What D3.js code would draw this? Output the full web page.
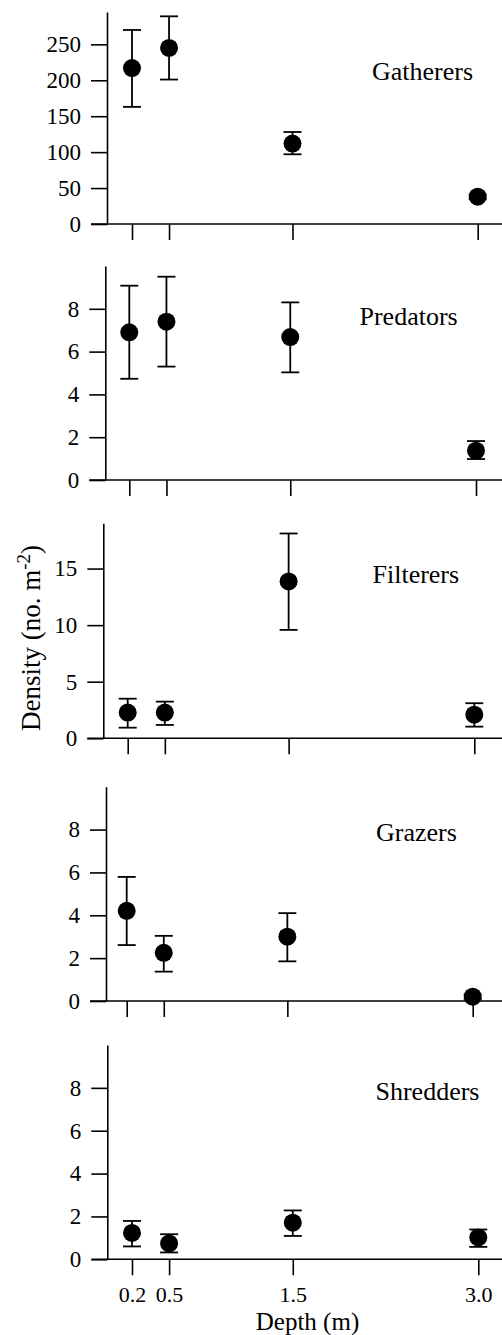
<!DOCTYPE html>
<html>
<head>
<meta charset="utf-8">
<script src="https://cdn.jsdelivr.net/npm/d3@7"></script>
<style>
  html, body { margin: 0; padding: 0; background: #fff; }
  svg { display: block; font-family: "Liberation Serif", "Times New Roman", serif; }
</style>
</head>
<body>
<svg id="chart" width="502" height="1335"></svg>
<script>
// Sampling depths (m)
const depths = [0.2, 0.5, 1.5, 3.0];
const depthLabels = ["0.2", "0.5", "1.5", "3.0"];

// Functional feeding groups
const groups = ["Gatherers", "Predators", "Filterers", "Grazers", "Shredders"];

// Mean density (no. m^-2) at each depth, with the upper and lower error limits
const gatherersMean  = [217, 245, 112, 38];
const gatherersHigh  = [270, 289, 128, 41];
const gatherersLow   = [163, 201, 97, 35];

const predatorsMean  = [6.9, 7.4, 6.68, 1.37];
const predatorsHigh  = [9.08, 9.5, 8.3, 1.82];
const predatorsLow   = [4.73, 5.3, 5.03, 0.98];

const filterersMean  = [2.27, 2.27, 13.86, 2.09];
const filterersHigh  = [3.5, 3.24, 18.1, 3.1];
const filterersLow   = [0.94, 1.18, 9.58, 1.03];

const grazersMean    = [4.21, 2.25, 3.0, 0.2];
const grazersHigh    = [5.79, 3.04, 4.1, 0.3];
const grazersLow     = [2.61, 1.37, 1.85, 0.1];

const shreddersMean  = [1.23, 0.74, 1.71, 1.02];
const shreddersHigh  = [1.79, 1.17, 2.28, 1.39];
const shreddersLow   = [0.6, 0.32, 1.09, 0.58];

// y-axis extents and tick values for each panel
const yMax   = [295, 10, 19, 10, 10];
const yTicks = [[0, 50, 100, 150, 200, 250], [0, 2, 4, 6, 8], [0, 5, 10, 15], [0, 2, 4, 6, 8], [0, 2, 4, 6, 8]];

const means = [gatherersMean, predatorsMean, filterersMean, grazersMean, shreddersMean];
const highs = [gatherersHigh, predatorsHigh, filterersHigh, grazersHigh, shreddersHigh];
const lows  = [gatherersLow, predatorsLow, filterersLow, grazersLow, shreddersLow];

// Panel layout (pixels)
const panels = [
  { axisX: 107,   top: 12,    bottom: 224,    x0: 132,   x1: 477.7, label: [372, 80] },
  { axisX: 105.3, top: 266,   bottom: 480,    x0: 129.3, x1: 476,   label: [359.5, 325] },
  { axisX: 103.3, top: 523.3, bottom: 738.3,  x0: 127.7, x1: 474.3, label: [372.5, 582.5] },
  { axisX: 106,   top: 786.7, bottom: 1001,   x0: 126.7, x1: 472.7, label: [376, 840.5] },
  { axisX: 107.3, top: 1045,  bottom: 1259.3, x0: 132,   x1: 478.3, label: [375.5, 1100] }
];

const svg = d3.select("#chart");
const tickLen = 16;
const radius = 9;
const capHalf = 9;

panels.forEach((p, i) => {
  const g = svg.append("g");
  const x = d3.scaleLinear().domain([depths[0], depths[3]]).range([p.x0, p.x1]);
  const y = d3.scaleLinear().domain([0, yMax[i]]).range([p.bottom, p.top]);

  // y axis
  const yAxis = d3.axisLeft(y).tickValues(yTicks[i]).tickSize(tickLen).tickSizeOuter(0).tickPadding(10)
    .tickFormat(d3.format("d"));
  const ya = g.append("g").attr("transform", `translate(${p.axisX},0)`).call(yAxis);
  ya.select(".domain").attr("stroke-width", 1.6);
  ya.selectAll(".tick line").attr("stroke-width", 1.6);
  ya.selectAll(".tick text").attr("font-size", 23).attr("font-family", "Liberation Serif, serif").attr("fill", "#000");

  // baseline running out to the right edge
  g.append("line")
    .attr("x1", p.axisX - tickLen).attr("x2", 502)
    .attr("y1", y(0)).attr("y2", y(0))
    .attr("stroke", "#000").attr("stroke-width", 1.6);

  // x ticks (labels only on the bottom panel)
  const xAxis = d3.axisBottom(x).tickValues(depths).tickSize(tickLen).tickPadding(11)
    .tickFormat((d, k) => i === panels.length - 1 ? depthLabels[k] : "");
  const xa = g.append("g").attr("transform", `translate(0,${y(0)})`).call(xAxis);
  xa.select(".domain").remove();
  xa.selectAll(".tick line").attr("stroke-width", 1.6);
  xa.selectAll(".tick text").attr("font-size", 22).attr("font-family", "Liberation Serif, serif").attr("fill", "#000");

  // error bars
  const rows = depths.map((d, k) => ({ d, m: means[i][k], hi: highs[i][k], lo: lows[i][k] }));
  const eb = g.append("g").attr("stroke", "#000").attr("stroke-width", 1.8);
  eb.selectAll("line.stem").data(rows).join("line").attr("class", "stem")
    .attr("x1", r => x(r.d)).attr("x2", r => x(r.d))
    .attr("y1", r => y(r.hi)).attr("y2", r => y(r.lo));
  eb.selectAll("line.capHi").data(rows).join("line").attr("class", "capHi")
    .attr("x1", r => x(r.d) - capHalf).attr("x2", r => x(r.d) + capHalf)
    .attr("y1", r => y(r.hi)).attr("y2", r => y(r.hi));
  eb.selectAll("line.capLo").data(rows).join("line").attr("class", "capLo")
    .attr("x1", r => x(r.d) - capHalf).attr("x2", r => x(r.d) + capHalf)
    .attr("y1", r => y(r.lo)).attr("y2", r => y(r.lo));

  // mean markers
  g.selectAll("circle").data(rows).join("circle")
    .attr("cx", r => x(r.d)).attr("cy", r => y(r.m)).attr("r", radius).attr("fill", "#000");

  // group name
  g.append("text").attr("x", p.label[0]).attr("y", p.label[1])
    .attr("font-size", 26).attr("fill", "#000").text(groups[i]);
});

// axis titles
const yt = svg.append("text")
  .attr("transform", "translate(40,638) rotate(-90)")
  .attr("text-anchor", "middle").attr("font-size", 27).attr("fill", "#000");
yt.append("tspan").text("Density (no. m");
yt.append("tspan").attr("font-size", 19).attr("dy", -10).text("-2");
yt.append("tspan").attr("dy", 10).text(")");

svg.append("text").attr("x", 307.5).attr("y", 1330)
  .attr("text-anchor", "middle").attr("font-size", 25).attr("fill", "#000").text("Depth (m)");
</script>
</body>
</html>
